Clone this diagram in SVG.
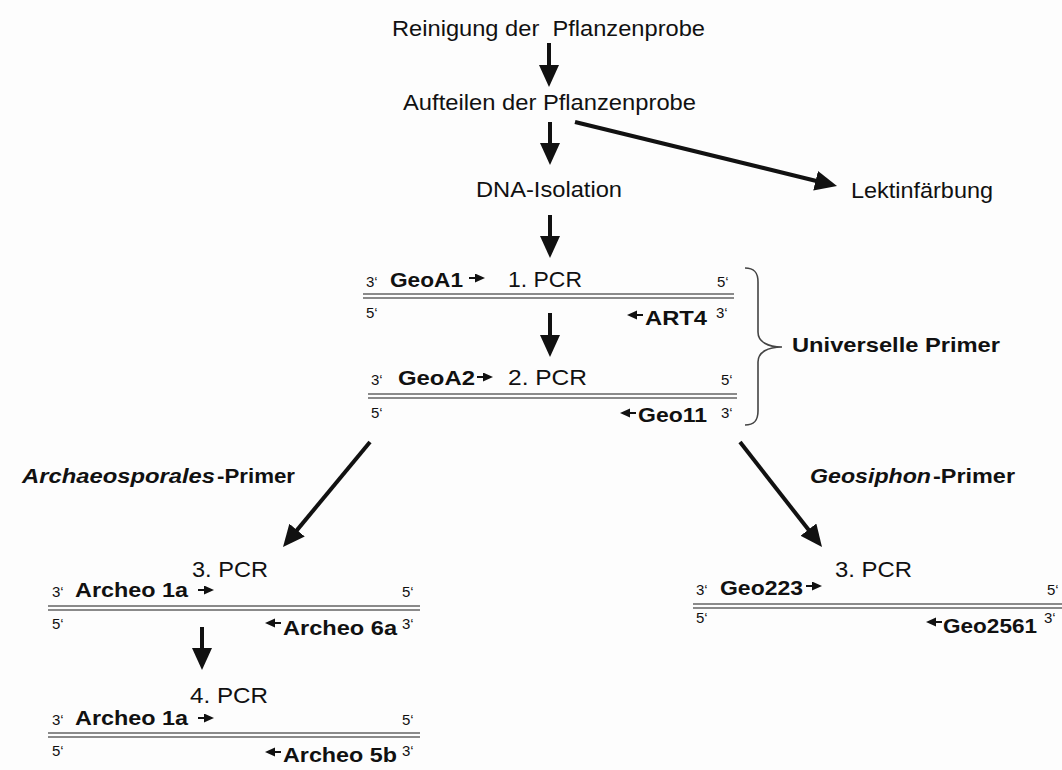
<svg xmlns="http://www.w3.org/2000/svg" width="1062" height="770" viewBox="0 0 1062 770">
<style>
text{font-family:"Liberation Sans",Arial,sans-serif;fill:#111;}
.t{font-size:22px;}
.b{font-size:21px;font-weight:bold;}
.bi{font-size:21px;font-weight:bold;font-style:italic;}
.s{font-size:15px;}
.big{stroke:#111;stroke-width:4;fill:none;marker-end:url(#ah);}
.sm{stroke:#111;stroke-width:2;fill:none;marker-end:url(#sa);}
.dl{stroke:#8a8a8a;stroke-width:2;}
.br{stroke:#444;stroke-width:1.6;fill:none;}
</style>
<defs>
<marker id="ah" markerUnits="userSpaceOnUse" markerWidth="24" markerHeight="22" refX="4" refY="10" orient="auto">
<path d="M0,0 L22,10 L0,20 z" fill="#111"/>
</marker>
<marker id="sa" markerUnits="userSpaceOnUse" markerWidth="11" markerHeight="10" refX="1" refY="4.5" orient="auto">
<path d="M0,0 L10,4.5 L0,9 z" fill="#111"/>
</marker>
</defs>
<rect width="1062" height="770" fill="#fdfdfd"/>

<g id="connectors">
<line class="big" x1="549" y1="43" x2="549" y2="69"/>
<line class="big" x1="550" y1="122" x2="550" y2="147"/>
<line class="big" x1="550" y1="215" x2="550" y2="240"/>
<line class="big" x1="575" y1="122" x2="819.5" y2="181.7"/>
<line class="big" x1="550" y1="313" x2="550" y2="339"/>
<line class="big" x1="370" y1="442" x2="294.5" y2="533.1"/>
<line class="big" x1="740" y1="442" x2="810.9" y2="532.8"/>
<line class="big" x1="202" y1="627" x2="202" y2="652"/>
</g>

<g id="n-reinigung">
<text class="t" x="392" y="36" textLength="313" lengthAdjust="spacingAndGlyphs" xml:space="preserve">Reinigung der  Pflanzenprobe</text>
</g>
<g id="n-aufteilen">
<text class="t" x="403" y="110" textLength="293" lengthAdjust="spacingAndGlyphs">Aufteilen der Pflanzenprobe</text>
</g>
<g id="n-dna">
<text class="t" x="476" y="197" textLength="146" lengthAdjust="spacingAndGlyphs">DNA-Isolation</text>
</g>
<g id="n-lektin">
<text class="t" x="851" y="198" textLength="142" lengthAdjust="spacingAndGlyphs">Lektinfärbung</text>
</g>

<g id="n-pcr1">
<text class="s" x="366" y="287">3‘</text>
<text class="b" x="390" y="287" textLength="73" lengthAdjust="spacingAndGlyphs">GeoA1</text>
<line class="sm" x1="469" y1="278" x2="476" y2="278"/>
<text class="t" x="508" y="287" textLength="74" lengthAdjust="spacingAndGlyphs">1. PCR</text>
<text class="s" x="717" y="287">5‘</text>
<line class="dl" x1="363" y1="294" x2="734" y2="294"/>
<line class="dl" x1="363" y1="298" x2="734" y2="298"/>
<text class="s" x="366" y="318">5‘</text>
<line class="sm" x1="643" y1="315" x2="636" y2="315"/>
<text class="b" x="645" y="325" textLength="62" lengthAdjust="spacingAndGlyphs">ART4</text>
<text class="s" x="716" y="318">3‘</text>
</g>

<g id="n-pcr2">
<text class="s" x="371" y="385">3‘</text>
<text class="b" x="398" y="385" textLength="77" lengthAdjust="spacingAndGlyphs">GeoA2</text>
<line class="sm" x1="477" y1="377" x2="484" y2="377"/>
<text class="t" x="508" y="385" textLength="79" lengthAdjust="spacingAndGlyphs">2. PCR</text>
<text class="s" x="721" y="385">5‘</text>
<line class="dl" x1="368" y1="394" x2="737" y2="394"/>
<line class="dl" x1="368" y1="398" x2="737" y2="398"/>
<text class="s" x="371" y="418">5‘</text>
<line class="sm" x1="636" y1="413" x2="629" y2="413"/>
<text class="b" x="638" y="422" textLength="69" lengthAdjust="spacingAndGlyphs">Geo11</text>
<text class="s" x="721" y="418">3‘</text>
</g>

<g id="n-universal">
<path class="br" d="M745,268 C754,268 758,272 758,282 L758,332 C758,342 768,347 782,347 C768,347 758,352 758,362 L758,411 C758,421 754,425 745,425"/>
<text class="b" x="792" y="352" textLength="208" lengthAdjust="spacingAndGlyphs">Universelle Primer</text>
</g>

<g id="n-archaeo-label">
<text class="bi" x="22" y="483" textLength="193" lengthAdjust="spacingAndGlyphs">Archaeosporales</text>
<text class="b" x="217" y="483" textLength="78" lengthAdjust="spacingAndGlyphs">-Primer</text>
</g>
<g id="n-geosiphon-label">
<text class="bi" x="810" y="483" textLength="121" lengthAdjust="spacingAndGlyphs">Geosiphon</text>
<text class="b" x="933" y="483" textLength="82" lengthAdjust="spacingAndGlyphs">-Primer</text>
</g>

<g id="n-pcr3-left">
<text class="t" x="192" y="577" textLength="76" lengthAdjust="spacingAndGlyphs">3. PCR</text>
<text class="s" x="52" y="597">3‘</text>
<text class="b" x="75" y="597" textLength="113" lengthAdjust="spacingAndGlyphs">Archeo 1a</text>
<line class="sm" x1="198" y1="590" x2="205" y2="590"/>
<text class="s" x="402" y="597">5‘</text>
<line class="dl" x1="48" y1="606" x2="420" y2="606"/>
<line class="dl" x1="48" y1="610" x2="420" y2="610"/>
<text class="s" x="52" y="629">5‘</text>
<line class="sm" x1="281" y1="623" x2="274" y2="623"/>
<text class="b" x="283" y="635" textLength="114" lengthAdjust="spacingAndGlyphs">Archeo 6a</text>
<text class="s" x="402" y="629">3‘</text>
</g>

<g id="n-pcr4-left">
<text class="t" x="190" y="703" textLength="78" lengthAdjust="spacingAndGlyphs">4. PCR</text>
<text class="s" x="52" y="725">3‘</text>
<text class="b" x="75" y="725" textLength="113" lengthAdjust="spacingAndGlyphs">Archeo 1a</text>
<line class="sm" x1="198" y1="718" x2="205" y2="718"/>
<text class="s" x="402" y="725">5‘</text>
<line class="dl" x1="48" y1="733" x2="420" y2="733"/>
<line class="dl" x1="48" y1="737" x2="420" y2="737"/>
<text class="s" x="52" y="756">5‘</text>
<line class="sm" x1="281" y1="752" x2="274" y2="752"/>
<text class="b" x="283" y="762" textLength="114" lengthAdjust="spacingAndGlyphs">Archeo 5b</text>
<text class="s" x="402" y="756">3‘</text>
</g>

<g id="n-pcr3-right">
<text class="t" x="835" y="577" textLength="77" lengthAdjust="spacingAndGlyphs">3. PCR</text>
<text class="s" x="696" y="595">3‘</text>
<text class="b" x="720" y="595" textLength="83" lengthAdjust="spacingAndGlyphs">Geo223</text>
<line class="sm" x1="806" y1="586" x2="813" y2="586"/>
<text class="s" x="1047" y="595">5‘</text>
<line class="dl" x1="693" y1="604" x2="1062" y2="604"/>
<line class="dl" x1="693" y1="608" x2="1062" y2="608"/>
<text class="s" x="696" y="623">5‘</text>
<line class="sm" x1="942" y1="622" x2="935" y2="622"/>
<text class="b" x="943" y="633" textLength="94" lengthAdjust="spacingAndGlyphs">Geo2561</text>
<text class="s" x="1044" y="623">3‘</text>
</g>
</svg>
